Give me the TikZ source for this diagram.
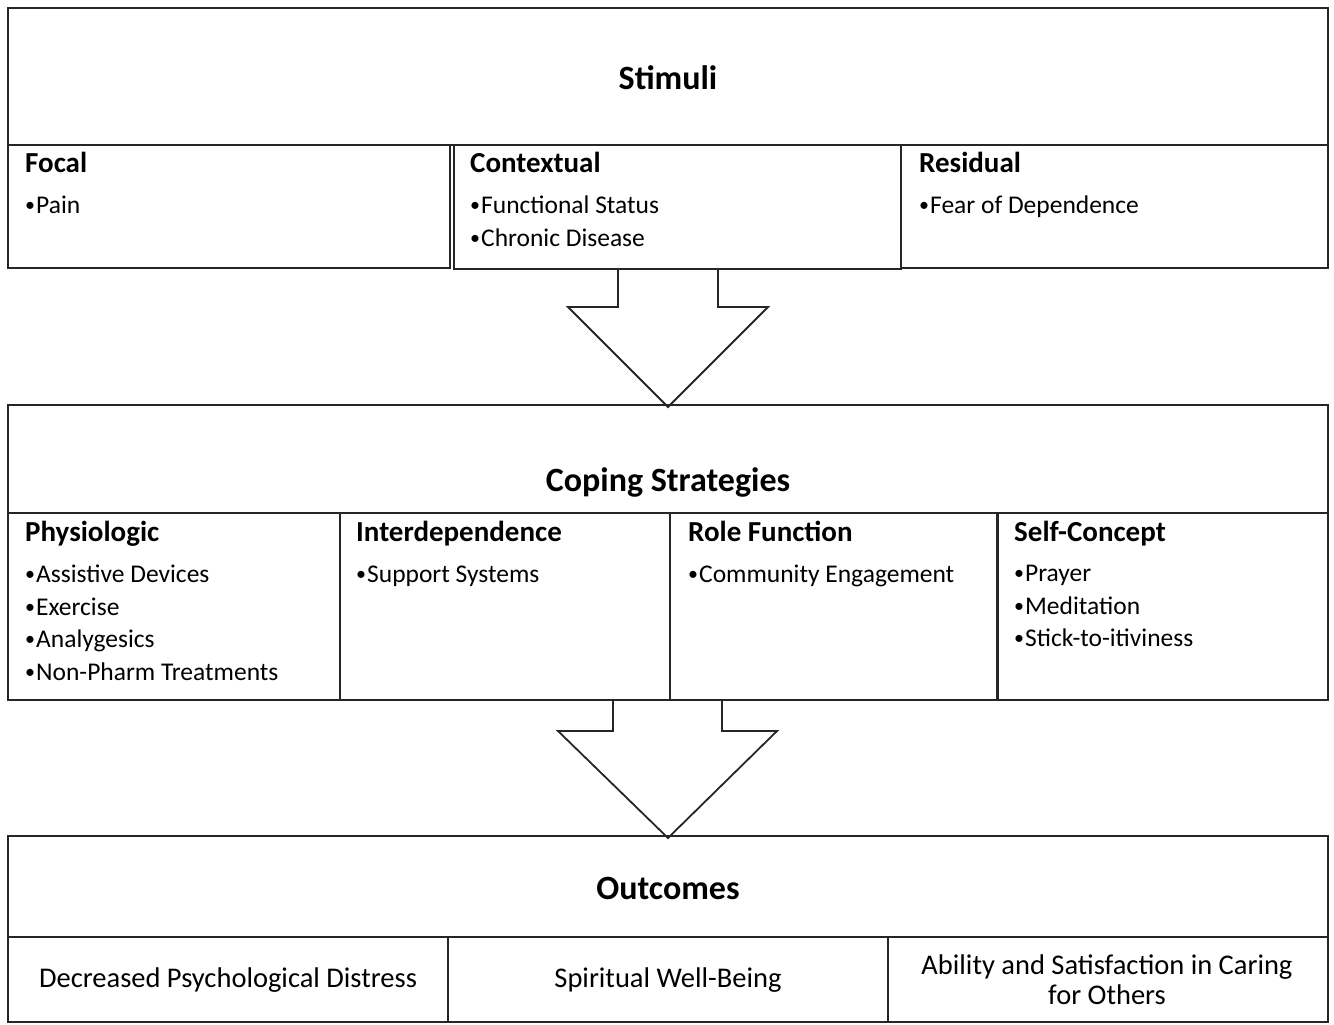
\documentclass[tikz,border=0pt]{standalone}
\usepackage{fontspec}
\setmainfont{Carlito}
\newcommand{\mybul}{{\fontsize{20}{20}\selectfont\raisebox{1.2pt}{•}}\kern1pt}
\begin{document}
\begin{tikzpicture}[x=1pt,y=-1pt,
  box/.style={draw=black!85, line width=1.8pt, rectangle, inner sep=0pt, outer sep=0pt, anchor=north west},
  title/.style={font=\bfseries\fontsize{34}{38}\selectfont, anchor=center},
  head/.style={font=\bfseries\fontsize{29}{32}\selectfont, anchor=base west, inner sep=0pt},
  item/.style={font=\fontsize{25.5}{30}\selectfont, anchor=base west, inner sep=0pt},
  outc/.style={font=\fontsize{28.5}{30}\selectfont, align=center, anchor=center},
  blockarrow/.style={draw=black!85, line width=1.8pt, line join=miter}]
\useasboundingbox (0,0) rectangle (1334,1025);
% Stimuli
\node[box, minimum width=1320pt, minimum height=137pt] (stim) at (8,8) {};
\node[title] (stimT) at (668,78) {Stimuli};
\node[box, minimum width=442pt, minimum height=123pt] (focal) at (8,145) {};
\node[box, minimum width=447pt, minimum height=124pt] (cont) at (454,145) {};
\node[box, minimum width=427pt, minimum height=123pt] (resid) at (901,145) {};
\node[head] (focalH) at (25,172) {Focal};
\node[item] (focalI) at (25,213) {\mybul Pain};
\node[head] (contH) at (470,172) {Contextual};
\node[item] (contI1) at (470,213) {\mybul Functional Status};
\node[item] (contI2) at (470,246) {\mybul Chronic Disease};
\node[head] (residH) at (919,172) {Residual};
\node[item] (residI) at (919,213) {\mybul Fear of Dependence};
% Arrow 1
\coordinate (a1t) at (668,407);
\draw[blockarrow] (618,269) -- (618,307) -- (568,307) -- (a1t) -- (768,307) -- (718,307) -- (718,269);
% Coping
\node[box, minimum width=1320pt, minimum height=108pt] (cope) at (8,405) {};
\node[title] (copeT) at (668,482) {Coping Strategies};
\node[box, minimum width=332pt, minimum height=187pt] (phys) at (8,513) {};
\node[box, minimum width=330pt, minimum height=187pt] (inter) at (340,513) {};
\node[box, minimum width=328pt, minimum height=187pt] (role) at (670,513) {};
\node[box, minimum width=331pt, minimum height=187pt] (self) at (997,513) {};
\node[head] (physH) at (25,541) {Physiologic};
\node[item] (physI1) at (25,582) {\mybul Assistive Devices};
\node[item] (physI2) at (25,615) {\mybul Exercise};
\node[item] (physI3) at (25,647) {\mybul Analygesics};
\node[item] (physI4) at (25,680) {\mybul Non-Pharm Treatments};
\node[head] (interH) at (356,541) {Interdependence};
\node[item] (interI) at (356,582) {\mybul Support Systems};
\node[head] (roleH) at (688,541) {Role Function};
\node[item] (roleI) at (688,582) {\mybul Community Engagement};
\node[head] (selfH) at (1014,541) {Self-Concept};
\node[item] (selfI1) at (1014,581) {\mybul Prayer};
\node[item] (selfI2) at (1014,614) {\mybul Meditation};
\node[item] (selfI3) at (1014,646) {\mybul Stick-to-itiviness};
% Arrow 2
\coordinate (a2t) at (668,838);
\draw[blockarrow] (613,700) -- (613,731) -- (558,731) -- (a2t) -- (777,731) -- (722,731) -- (722,700);
% Outcomes
\node[box, minimum width=1320pt, minimum height=101pt] (outb) at (8,836) {};
\node[title] (outT) at (668,888) {Outcomes};
\node[box, minimum width=440pt, minimum height=85pt] (o1) at (8,937) {};
\node[box, minimum width=440pt, minimum height=85pt] (o2) at (448,937) {};
\node[box, minimum width=440pt, minimum height=85pt] (o3) at (888,937) {};
\node[outc] at (228,980) {Decreased Psychological Distress};
\node[outc] at (668,980) {Spiritual Well-Being};
\node[outc] at (1107,980) {Ability and Satisfaction in Caring\\for Others};
\end{tikzpicture}
\end{document}
